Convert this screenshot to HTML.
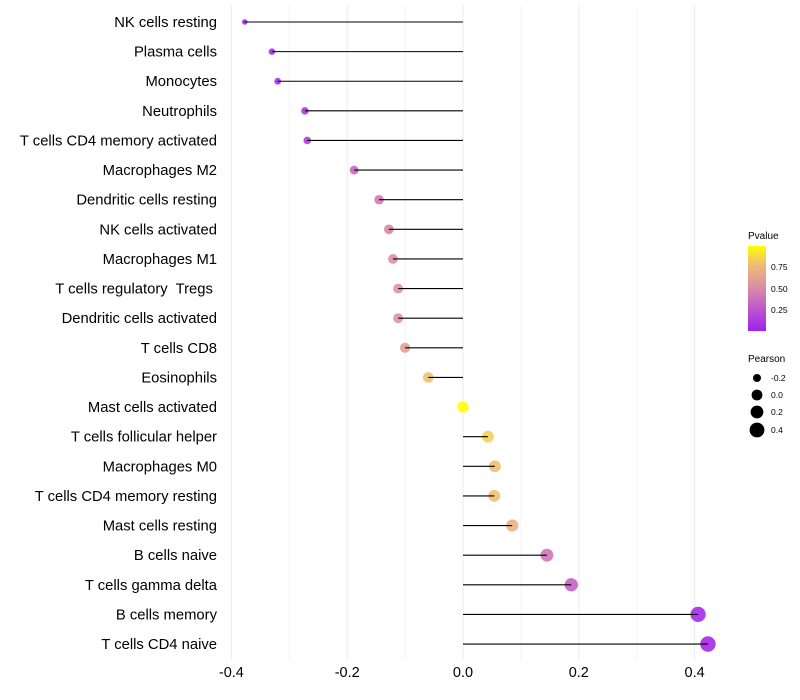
<!DOCTYPE html>
<html><head><meta charset="utf-8"><style>
body{margin:0;background:#fff;font-family:"Liberation Sans",sans-serif;}
svg{display:block}
text{white-space:pre}
</style></head><body>
<svg id="chart" width="800" height="700">
<defs><linearGradient id="pg" x1="0" y1="1" x2="0" y2="0">
<stop offset="0" stop-color="#A020F0"/><stop offset="0.5" stop-color="#D98AA8"/><stop offset="0.8" stop-color="#F0C070"/><stop offset="1" stop-color="#FFFF00"/></linearGradient></defs>
<g id="grid"></g><g id="dots"></g><g id="marks"></g><g id="labels"></g><g id="xt"></g>
<g>
<text x="748" y="239" font-size="10">Pvalue</text>
<rect x="748" y="246" width="18" height="85" fill="url(#pg)"/>
<text x="771" y="270" font-size="8.5">0.75</text>
<text x="771" y="292" font-size="8.5">0.50</text>
<text x="771" y="313" font-size="8.5">0.25</text>
<text x="748" y="362" font-size="10">Pearson</text>
<circle cx="757" cy="378" r="4" fill="#000"/><text x="771" y="381" font-size="8.5">-0.2</text>
<circle cx="757" cy="395" r="5.4" fill="#000"/><text x="771" y="398" font-size="8.5">0.0</text>
<circle cx="757" cy="412" r="6.4" fill="#000"/><text x="771" y="415" font-size="8.5">0.2</text>
<circle cx="757" cy="430" r="7.4" fill="#000"/><text x="771" y="433" font-size="8.5">0.4</text>
</g>
</svg>
<script>
const cells=["NK cells resting","Plasma cells","Monocytes","Neutrophils","T cells CD4 memory activated","Macrophages M2","Dendritic cells resting","NK cells activated","Macrophages M1","T cells regulatory  Tregs ","Dendritic cells activated","T cells CD8","Eosinophils","Mast cells activated","T cells follicular helper","Macrophages M0","T cells CD4 memory resting","Mast cells resting","B cells naive","T cells gamma delta","B cells memory","T cells CD4 naive"];
const pearson=[-0.377,-0.330,-0.320,-0.273,-0.269,-0.188,-0.145,-0.128,-0.121,-0.112,-0.112,-0.100,-0.060,0.0,0.043,0.055,0.054,0.085,0.145,0.187,0.406,0.423];
const pvalue=[0.04,0.06,0.07,0.12,0.13,0.33,0.42,0.48,0.53,0.56,0.56,0.62,0.8,1.0,0.85,0.8,0.8,0.72,0.4,0.3,0.05,0.04];
const xticks=[-0.4,-0.2,0.0,0.2,0.4];
const xminor=[-0.3,-0.1,0.1,0.3];
const NS="http://www.w3.org/2000/svg";
const X=v=>463+v*579;
const Y=i=>22+i*29.62;
const R=v=>Math.sqrt(Math.max(3,32+65*v));
function lerp(a,b,t){return a.map((x,k)=>Math.round(x+(b[k]-x)*t));}
function col(p){const s=[[0,[160,32,240]],[0.5,[217,138,168]],[0.8,[240,192,112]],[1,[255,255,0]]];
for(let k=1;k<s.length;k++){if(p<=s[k][0]){const t=(p-s[k-1][0])/(s[k][0]-s[k-1][0]);return "rgb("+lerp(s[k-1][1],s[k][1],t).join(",")+")";}}return "rgb(255,255,0)";}
function mk(tag,attrs,parent){const e=document.createElementNS(NS,tag);for(const k in attrs)e.setAttribute(k,attrs[k]);document.getElementById(parent).appendChild(e);return e;}
xminor.forEach(v=>{const l=mk("line",{x1:X(v),x2:X(v),y1:5,y2:660,stroke:"#f3f3f3","stroke-width":1},"grid");

});
xticks.forEach(v=>{const l=mk("line",{x1:X(v),x2:X(v),y1:5,y2:660,stroke:"#ebebeb","stroke-width":1},"grid");


const t=mk("text",{x:X(v),y:677,"font-size":14.5,"text-anchor":"middle",fill:"#000"},"xt");t.textContent=v.toFixed(1);

});
cells.forEach((c,i)=>{
const y=Y(i);
const t=mk("text",{x:217,y:y+5,"font-size":14.8,"text-anchor":"end",fill:"#000"},"labels");t.textContent=c;


const d=mk("circle",{cx:X(pearson[i]),cy:y,r:R(pearson[i]),fill:col(pvalue[i]),"fill-opacity":0.9},"dots");


const l=mk("line",{x1:X(0),x2:X(pearson[i]),y1:y,y2:y,stroke:"#000","stroke-width":1.1},"marks");


});
</script>
</body></html>
